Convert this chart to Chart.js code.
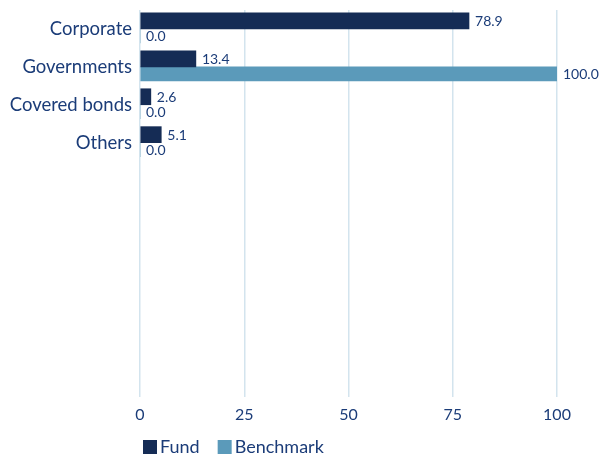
<!DOCTYPE html>
<html>
<head>
<meta charset="utf-8">
<script src="https://cdn.jsdelivr.net/npm/chart.js@4.4.0/dist/chart.umd.min.js"></script>
<style>
  html, body { margin: 0; padding: 0; background: #fff; }
  #wrap { width: 602px; height: 458px; }
</style>
</head>
<body>
<div id="wrap"><canvas id="barChart"></canvas></div>
<script>
var categories = ["Corporate", "Governments", "Covered bonds", "Others"];
var fundValues = [78.9, 13.4, 2.6, 5.1];
var benchmarkValues = [0.0, 100.0, 0.0, 0.0];
var xTicks = [0, 25, 50, 75, 100];

// the original leaves empty rows below the four categories
var emptyRows = 6;

var TEXT = "#1b3c78";

function padRows(arr, fill){
    var out = arr.slice();
    for (var i = 0; i < emptyRows; i++) out.push(fill);
    return out;
}

// draws the value next to the end of each bar
var valueLabels = {
    id: "valueLabels",
    afterDatasetsDraw: function(chart){
        var ctx = chart.ctx;
        ctx.save();
        ctx.font = "14px Lato";
        ctx.fillStyle = TEXT;
        ctx.textBaseline = "middle";
        ctx.textAlign = "left";
        chart.data.datasets.forEach(function(ds, i){
            var meta = chart.getDatasetMeta(i);
            meta.data.forEach(function(bar, j){
                var v = ds.data[j];
                if (v === null || v === undefined) return;
                ctx.fillText(v.toFixed(1), bar.x + 6, bar.y + 1);
            });
        });
        ctx.restore();
    }
};

// small legend under the axis, boxes tight to the text
var bottomLegend = {
    id: "bottomLegend",
    afterDraw: function(chart){
        var ctx = chart.ctx;
        ctx.save();
        ctx.font = "18px Lato";
        ctx.textBaseline = "middle";
        ctx.textAlign = "left";
        var x = chart.chartArea.left + 3;
        var y = 440;
        chart.data.datasets.forEach(function(ds){
            ctx.fillStyle = ds.backgroundColor;
            ctx.fillRect(x, y, 14, 14);
            x += 17;
            ctx.fillStyle = TEXT;
            ctx.fillText(ds.label, x, y + 7);
            x += ctx.measureText(ds.label).width + 18;
        });
        ctx.restore();
    }
};

function drawChart(){
    const CHART = document.getElementById('barChart');
    let barChart = new Chart(CHART, {
        type: 'bar',
        data: {
            labels: padRows(categories, ""),
            datasets: [
                {
                    label: "Fund",
                    backgroundColor: "#152c55",
                    data: padRows(fundValues, null),
                    barThickness: 16
                },
                {
                    label: "Benchmark",
                    backgroundColor: "#5b9aba",
                    data: padRows(benchmarkValues, null),
                    barThickness: 14
                }
            ]
        },
        options: {
            indexAxis: 'y',
            responsive: true,
            maintainAspectRatio: false,
            animation: false,
            layout: { padding: { top: 10, right: 45, bottom: 22, left: 0 } },
            scales: {
                x: {
                    min: 0,
                    max: 100,
                    afterBuildTicks: function(scale){
                        scale.ticks = xTicks.map(function(v){ return { value: v }; });
                    },
                    afterFit: function(scale){
                        scale.height = 47;
                        scale.paddingLeft = 0;
                        scale.paddingRight = 0;
                    },
                    grid: { color: "#d3e4ee", lineWidth: 1.5, tickLength: 8 },
                    border: { display: false },
                    ticks: { color: TEXT, font: { family: "Lato", size: 16 }, padding: 8 }
                },
                y: {
                    afterFit: function(scale){
                        scale.width = 140;
                        scale.paddingTop = 0;
                        scale.paddingBottom = 0;
                    },
                    grid: { display: false, drawTicks: false },
                    border: { display: false },
                    ticks: { color: TEXT, font: { family: "Lato", size: 18.5 }, padding: 8, autoSkip: false }
                }
            },
            plugins: {
                legend: { display: false },
                tooltip: { enabled: false }
            }
        },
        plugins: [valueLabels, bottomLegend]
    });
}

drawChart();
</script>
</body>
</html>
